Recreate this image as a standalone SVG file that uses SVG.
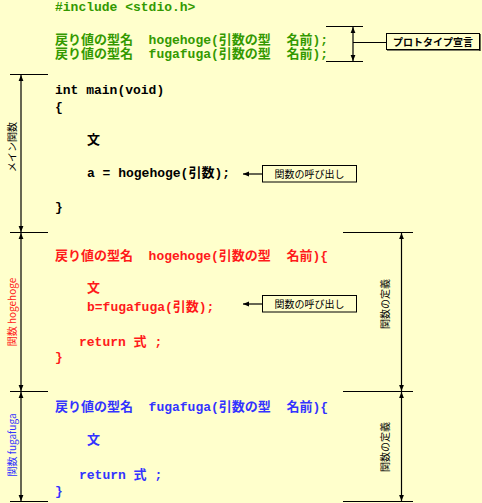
<svg xmlns="http://www.w3.org/2000/svg" width="482" height="503" viewBox="0 0 482 503">
<defs>
<style>
.code{font-family:"Liberation Mono","Noto Sans CJK JP",monospace;font-size:13px;font-weight:bold;white-space:pre}
.g{fill:#339900}.r{fill:#ff1a1a}.b{fill:#3333ff}.k{fill:#000}
.lbl{font-family:"Noto Sans CJK JP","Liberation Sans",sans-serif;font-size:10px}
.ln{stroke:#000;stroke-width:1.2;fill:none}
.box{fill:#ffffcc;stroke:#000;stroke-width:1}
</style>
<marker id="ah" viewBox="0 0 10 10" refX="10" refY="5" markerWidth="6" markerHeight="6" orient="auto-start-reverse" markerUnits="userSpaceOnUse">
<path d="M0,1 L10,5 L0,9 Z" fill="#000"/>
</marker>
</defs>
<rect width="482" height="503" fill="#ffffcc"/>

<g id="code-include"><text class="code g" x="55" y="11">#include &lt;stdio.h&gt;</text></g>
<g id="code-proto">
<text class="code g" x="55" y="44" xml:space="preserve">戻り値の型名  hogehoge(引数の型  名前);</text>
<text class="code g" x="55" y="58" xml:space="preserve">戻り値の型名  fugafuga(引数の型  名前);</text>
</g>
<g id="code-main">
<text class="code k" x="55" y="94">int main(void)</text>
<text class="code k" x="55" y="111">{</text>
<text class="code k" x="87" y="144">文</text>
<text class="code k" x="87" y="177">a = hogehoge(引数);</text>
<text class="code k" x="55" y="211">}</text>
</g>
<g id="code-hogehoge">
<text class="code r" x="55" y="260" xml:space="preserve">戻り値の型名  hogehoge(引数の型  名前){</text>
<text class="code r" x="87" y="292">文</text>
<text class="code r" x="87" y="311">b=fugafuga(引数);</text>
<text class="code r" x="79" y="346" xml:space="preserve">return 式 ;</text>
<text class="code r" x="55" y="361">}</text>
</g>
<g id="code-fugafuga">
<text class="code b" x="55" y="411" xml:space="preserve">戻り値の型名  fugafuga(引数の型  名前){</text>
<text class="code b" x="87" y="444">文</text>
<text class="code b" x="79" y="479" xml:space="preserve">return 式 ;</text>
<text class="code b" x="55" y="495">}</text>
</g>

<g id="connectors">
<!-- prototype dimension -->
<line class="ln" x1="326" y1="26.5" x2="363" y2="26.5"/>
<line class="ln" x1="326" y1="61.5" x2="363" y2="61.5"/>
<line class="ln" x1="353" y1="27" x2="353" y2="61" marker-start="url(#ah)" marker-end="url(#ah)"/>
<line class="ln" x1="353" y1="42.5" x2="386" y2="42.5"/>
<!-- left dimensions -->
<line class="ln" x1="10" y1="74.5" x2="48" y2="74.5"/>
<line class="ln" x1="10" y1="232.5" x2="48" y2="232.5"/>
<line class="ln" x1="10" y1="391.5" x2="48" y2="391.5"/>
<line class="ln" x1="10" y1="501.5" x2="48" y2="501.5"/>
<line class="ln" x1="21" y1="75" x2="21" y2="232" marker-start="url(#ah)" marker-end="url(#ah)"/>
<line class="ln" x1="21" y1="233" x2="21" y2="391" marker-start="url(#ah)" marker-end="url(#ah)"/>
<line class="ln" x1="21" y1="392" x2="21" y2="501" marker-start="url(#ah)" marker-end="url(#ah)"/>
<!-- right dimensions -->
<line class="ln" x1="343" y1="232.5" x2="413" y2="232.5"/>
<line class="ln" x1="343" y1="391.5" x2="413" y2="391.5"/>
<line class="ln" x1="343" y1="501.5" x2="413" y2="501.5"/>
<line class="ln" x1="401.5" y1="233" x2="401.5" y2="391" marker-start="url(#ah)" marker-end="url(#ah)"/>
<line class="ln" x1="401.5" y1="392" x2="401.5" y2="501" marker-start="url(#ah)" marker-end="url(#ah)"/>
<!-- call arrows -->
<line class="ln" x1="262" y1="174" x2="243" y2="174" marker-end="url(#ah)"/>
<line class="ln" x1="262" y1="304" x2="243" y2="304" marker-end="url(#ah)"/>
</g>

<g id="label-proto">
<rect class="box" x="386.5" y="33.5" width="93" height="16"/>
<line class="ln" x1="480" y1="34" x2="480" y2="51" stroke-width="2"/>
<line class="ln" x1="387" y1="50" x2="480" y2="50" stroke-width="1.5"/>
<text class="lbl" x="433" y="45.5" text-anchor="middle" font-weight="bold">プロトタイプ宣言</text>
</g>
<g id="label-call1">
<rect class="box" x="262.5" y="165.5" width="94" height="16.5"/>
<text class="lbl" x="309.5" y="178" text-anchor="middle">関数の呼び出し</text>
</g>
<g id="label-call2">
<rect class="box" x="262.5" y="295.5" width="94" height="16.5"/>
<text class="lbl" x="309.5" y="308" text-anchor="middle">関数の呼び出し</text>
</g>
<g id="label-main">
<text class="lbl" transform="translate(16,147) rotate(-90)" text-anchor="middle">メイン関数</text>
</g>
<g id="label-hogehoge">
<text class="lbl" transform="translate(16,312) rotate(-90)" text-anchor="middle" fill="#ff1a1a">関数 hogehoge</text>
</g>
<g id="label-fugafuga">
<text class="lbl" transform="translate(16,445) rotate(-90)" text-anchor="middle" fill="#3333ff">関数 fugafuga</text>
</g>
<g id="label-def1">
<text class="lbl" transform="translate(389,304) rotate(-90)" text-anchor="middle">関数の定義</text>
</g>
<g id="label-def2">
<text class="lbl" transform="translate(389,447) rotate(-90)" text-anchor="middle">関数の定義</text>
</g>
</svg>
